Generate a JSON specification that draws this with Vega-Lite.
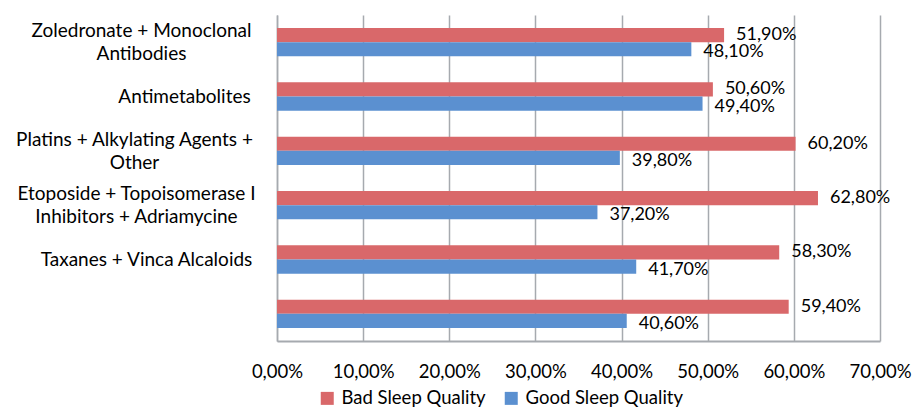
{
  "$schema": "https://vega.github.io/schema/vega-lite/v6.json",
  "autosize": "none",
  "width": 603,
  "height": 326,
  "padding": {"left": 277, "top": 15, "right": 33, "bottom": 68},
  "background": "white",
  "config": {
    "locale": {"number": {"decimal": ",", "thousands": ".", "grouping": [3], "currency": ["", " €"]}},
    "view": {"stroke": null},
    "font": "Lato",
    "text": {"font": "Lato"}
  },
  "data": {
    "values": [
      {"cat": "Zoledronate + Monoclonal|Antibodies", "group": "Bad Sleep Quality", "v": 0.519},
      {"cat": "Zoledronate + Monoclonal|Antibodies", "group": "Good Sleep Quality", "v": 0.481},
      {"cat": "Antimetabolites", "group": "Bad Sleep Quality", "v": 0.506},
      {"cat": "Antimetabolites", "group": "Good Sleep Quality", "v": 0.494},
      {"cat": "Platins + Alkylating Agents +|Other", "group": "Bad Sleep Quality", "v": 0.602},
      {"cat": "Platins + Alkylating Agents +|Other", "group": "Good Sleep Quality", "v": 0.398},
      {"cat": "Etoposide + Topoisomerase I|Inhibitors + Adriamycine", "group": "Bad Sleep Quality", "v": 0.628},
      {"cat": "Etoposide + Topoisomerase I|Inhibitors + Adriamycine", "group": "Good Sleep Quality", "v": 0.372},
      {"cat": "Taxanes + Vinca Alcaloids", "group": "Bad Sleep Quality", "v": 0.583},
      {"cat": "Taxanes + Vinca Alcaloids", "group": "Good Sleep Quality", "v": 0.417},
      {"cat": "", "group": "Bad Sleep Quality", "v": 0.594},
      {"cat": "", "group": "Good Sleep Quality", "v": 0.406}
    ]
  },
  "encoding": {
    "y": {
      "field": "cat", "type": "nominal", "sort": null,
      "scale": {"paddingInner": 0.48, "paddingOuter": 0.24},
      "axis": {
        "title": null,
        "labelExpr": "split(datum.value, '|')",
        "labelFont": "Lato", "labelFontSize": 19, "labelColor": "#000000",
        "labelLineHeight": 23,
        "labelAlign": "center",
        "labelBaseline": "middle",
        "labelLimit": 400,
        "labelOffset": {
          "condition": {"test": "indexof(datum.value, '|') >= 0", "value": -11},
          "value": 0
        },
        "labelPadding": {
          "condition": [
            {"test": "datum.value === 'Antimetabolites'", "value": 93},
            {"test": "datum.value === 'Platins + Alkylating Agents +|Other'", "value": 143},
            {"test": "datum.value === 'Etoposide + Topoisomerase I|Inhibitors + Adriamycine'", "value": 141},
            {"test": "datum.value === 'Taxanes + Vinca Alcaloids'", "value": 131}
          ],
          "value": 136
        },
        "ticks": false,
        "domainColor": "#A6AAAF", "domainWidth": 1.5
      }
    },
    "yOffset": {"field": "group", "type": "nominal", "scale": {"paddingInner": 0, "paddingOuter": 0}},
    "x": {
      "field": "v", "type": "quantitative",
      "scale": {"domain": [0, 0.7], "nice": false},
      "axis": {
        "title": null,
        "values": [0, 0.1, 0.2, 0.3, 0.4, 0.5, 0.6, 0.7],
        "format": ".2%",
        "labelFont": "Lato", "labelFontSize": 18.5, "labelColor": "#000000",
        "labelPadding": 21,
        "ticks": false,
        "grid": true, "gridColor": "#A6AAAF", "gridWidth": 1.5,
        "domainColor": "#A6AAAF", "domainWidth": 2,
        "labelFlush": false
      }
    }
  },
  "layer": [
    {
      "mark": {"type": "bar"},
      "encoding": {
        "color": {
          "field": "group", "type": "nominal",
          "scale": {"domain": ["Bad Sleep Quality", "Good Sleep Quality"], "range": ["#D9686A", "#5B90D0"]},
          "legend": {
            "title": null,
            "orient": "none",
            "direction": "horizontal",
            "legendX": 41,
            "legendY": 374,
            "symbolType": "square",
            "symbolSize": 169,
            "symbolStrokeWidth": 0,
            "labelFont": "Lato",
            "labelFontSize": 18.5,
            "labelColor": "#000000",
            "labelOffset": 5,
            "columnPadding": 16,
            "labelLimit": 300
          }
        }
      }
    },
    {
      "transform": [{"filter": "datum.group === 'Bad Sleep Quality'"}],
      "mark": {"type": "text", "align": "left", "baseline": "middle", "dx": 12, "dy": 0, "font": "Lato", "fontSize": 18, "color": "#000000"},
      "encoding": {"text": {"field": "v", "type": "quantitative", "format": ".2%"}}
    },
    {
      "transform": [{"filter": "datum.group === 'Good Sleep Quality'"}],
      "mark": {"type": "text", "align": "left", "baseline": "middle", "dx": 12, "dy": 3, "font": "Lato", "fontSize": 18, "color": "#000000"},
      "encoding": {"text": {"field": "v", "type": "quantitative", "format": ".2%"}}
    }
  ]
}
